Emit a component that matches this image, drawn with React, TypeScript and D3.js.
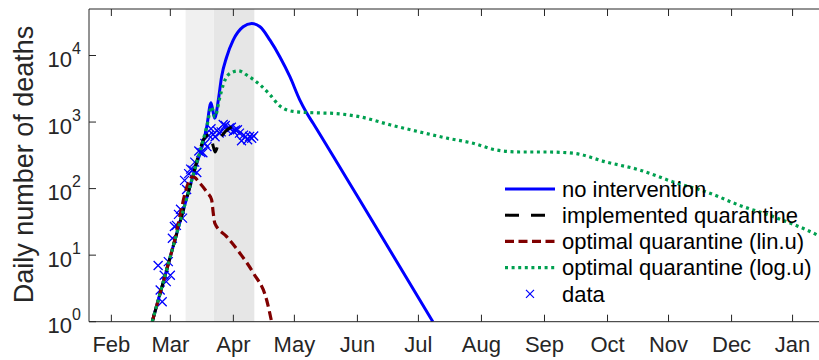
import React from "react";
import * as d3 from "d3";

// days are counted from 1 Feb 2020
const monthStartDays = [0, 29, 60, 90, 121, 151, 182, 213, 244, 274, 305, 335];
const monthLabels = ["Feb", "Mar", "Apr", "May", "Jun", "Jul", "Aug", "Sep", "Oct", "Nov", "Dec", "Jan"];
const yTickExponents = [0, 1, 2, 3, 4];

// shaded quarantine periods [start, end]
const lightShade = [36.5, 50.4];
const darkShade = [50.4, 70.3];

const noIntervention = [
  [20.1, 1], [30, 12.3], [40, 151], [46.9, 850], [49, 1950], [50.8, 1140], [52.6, 2140],
  [54.2, 4800], [56.7, 9500], [59.9, 17000], [64.8, 27000], [69, 30200], [73.1, 27000],
  [78, 17000], [82.9, 9500], [87.8, 4800], [92.7, 2140], [96, 1380], [99.3, 950],
  [113.2, 190], [122.2, 67], [158.1, 1],
];

const implemented = [
  [20.1, 1], [30, 12.3], [40, 151], [43, 330], [45.5, 560], [48.5, 660], [50.2, 420],
  [51, 355], [53, 525], [56, 720], [60, 870], [62, 900],
];

const optimalLin = [
  [20.1, 1], [30, 12.3], [40, 151], [43.6, 120], [46.9, 89], [49.3, 68], [50.1, 43],
  [50.9, 30], [56.7, 19], [63.2, 10.7], [69.8, 5.4], [76.4, 2.1], [78.8, 1],
];

const optimalLog = [
  [20.1, 1], [30, 12.3], [40, 151], [46.9, 850], [49.3, 1700], [50.9, 1200], [53.4, 2400],
  [55, 3630], [57.5, 5130], [62.4, 5890], [67.3, 4900], [73.1, 3630], [78, 2570],
  [82.9, 1740], [89.4, 1445], [99.3, 1380], [109.1, 1350], [122.2, 1200], [137, 910],
  [151.7, 710], [164.8, 575], [177.9, 480], [189.4, 380], [200.9, 355], [214, 355],
  [227.1, 340], [243.5, 250], [259.9, 190], [276.3, 126], [292.7, 89], [309, 56],
  [325.4, 38], [341.8, 24], [352, 17],
];

const dataStartDay = 23;
const dataDeaths = [
  7, 3, 2, 5, 4, 8, 5, 18, 27, 28, 41, 49, 36, 133, 97, 168, 196, 189, 250, 175, 368, 349,
  345, 475, 427, 627, 793, 651, 601, 743, 683, 712, 919, 889, 756, 812, 837, 727, 760, 766,
  681, 525, 636, 604, 542, 610, 570, 619,
];

const W = 819;
const H = 360;
const left = 89;
const top = 9;
const bottom = 321.7;
const right = 819;
const font = "'Liberation Sans', Arial, sans-serif";
const axisColor = "#262626";

const legendItems = [
  { label: "no intervention", color: "#0000ff", dash: null, width: 3 },
  { label: "implemented quarantine", color: "#000000", dash: "14 12", width: 3 },
  { label: "optimal quarantine (lin.u)", color: "#800000", dash: "9 4.5", width: 3.2 },
  { label: "optimal quarantine (log.u)", color: "#00a050", dash: "3 3.6", width: 3.2 },
];

const App = () => {
  const x = d3.scaleLinear().domain([-11, 348]).range([left, right]);
  const y = d3.scaleLog().domain([1, 5e4]).range([bottom, top]);

  const line = d3
    .line<number[]>()
    .x((d) => x(d[0]))
    .y((d) => y(d[1]))
    .curve(d3.curveMonotoneX);

  const series = [noIntervention, implemented, optimalLin, optimalLog];
  const dataPoints = dataDeaths.map((v, i) => [dataStartDay + i, v]);
  const m = 4.5;

  return (
    <svg width={W} height={H} style={{ position: "absolute", left: 0, top: 0, background: "#fff" }}>
      <defs>
        <clipPath id="plot">
          <rect x={left} y={top} width={right - left} height={bottom - top} />
        </clipPath>
      </defs>

      <rect x={x(lightShade[0])} y={top} width={x(lightShade[1]) - x(lightShade[0])} height={bottom - top} fill="#f0f0f0" />
      <rect x={x(darkShade[0])} y={top} width={x(darkShade[1]) - x(darkShade[0])} height={bottom - top} fill="#e6e6e6" />

      <g clipPath="url(#plot)">
        {dataPoints.map((d, i) => {
          const cx = x(d[0]);
          const cy = y(d[1]);
          return (
            <path key={i} d={`M${cx - m},${cy - m}L${cx + m},${cy + m}M${cx - m},${cy + m}L${cx + m},${cy - m}`} stroke="#0000ff" strokeWidth={1.3} />
          );
        })}
        {series.map((s, i) => (
          <path
            key={i}
            d={line(s) || ""}
            fill="none"
            stroke={legendItems[i].color}
            strokeWidth={legendItems[i].width}
            strokeDasharray={legendItems[i].dash || undefined}
          />
        ))}
      </g>

      {/* axes box */}
      <g stroke={axisColor} strokeWidth={1} fill="none">
        <line x1={left} x2={right} y1={top} y2={top} />
        <line x1={left} x2={right} y1={bottom} y2={bottom} />
        <line x1={left} x2={left} y1={top} y2={bottom} />
        {monthStartDays.map((d) => (
          <g key={d}>
            <line x1={x(d)} x2={x(d)} y1={bottom} y2={bottom - 7} />
            <line x1={x(d)} x2={x(d)} y1={top} y2={top + 7} />
          </g>
        ))}
        {yTickExponents.map((e) => (
          <line key={e} x1={left} x2={left + 7} y1={y(10 ** e)} y2={y(10 ** e)} />
        ))}
      </g>

      <g fontFamily={font} fill={axisColor}>
        {monthStartDays.map((d, i) => (
          <text key={d} x={x(d)} y={352} fontSize={22} textAnchor="middle">
            {monthLabels[i]}
          </text>
        ))}
        {yTickExponents.map((e) => (
          <text key={e} x={81} y={y(10 ** e) + 11.5} fontSize={22} textAnchor="end">
            10
            <tspan fontSize={16} dy={-13}>{e}</tspan>
          </text>
        ))}
        <text transform="translate(33,164.5) rotate(-90)" fontSize={27} textAnchor="middle">
          Daily number of deaths
        </text>
      </g>

      <g fontFamily={font} fontSize={22} fill="#000">
        {legendItems.map((it, i) => {
          const ry = 189 + i * 26.2;
          return (
            <g key={it.label}>
              <line x1={505} x2={555} y1={ry} y2={ry} stroke={it.color} strokeWidth={it.width} strokeDasharray={it.dash || undefined} />
              <text x={562} y={ry + 7.7}>{it.label}</text>
            </g>
          );
        })}
        <path d={`M526,${189 + 4 * 26.2 - 4}L534,${189 + 4 * 26.2 + 4}M526,${189 + 4 * 26.2 + 4}L534,${189 + 4 * 26.2 - 4}`} stroke="#0000ff" strokeWidth={1.2} />
        <text x={562} y={189 + 4 * 26.2 + 7.7}>data</text>
      </g>
    </svg>
  );
};

export default App;
